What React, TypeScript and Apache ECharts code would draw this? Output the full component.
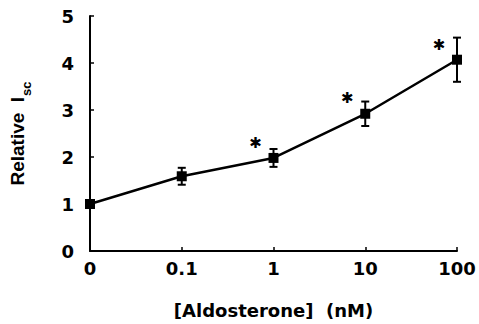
import React, { useEffect, useRef } from "react";
import * as echarts from "echarts";

const xLabels = ["0", "0.1", "1", "10", "100"];
const means = [1.0, 1.59, 1.98, 2.92, 4.07];
const errors = [0, 0.18, 0.19, 0.26, 0.47];
const starY = [null, null, 2.3, 3.25, 4.38];
const yTicks = [0, 1, 2, 3, 4, 5];

export default function App() {
  const ref = useRef<HTMLDivElement>(null);
  useEffect(() => {
    document.body.style.margin = "0";
    const chart = echarts.init(ref.current!, undefined, { renderer: "svg" });
    const pts = means.map((m, i) => [i, m]);
    const errData = means.map((m, i) => [i, m - errors[i], m + errors[i]]);
    const starData = starY
      .map((y, i) => (y == null ? null : [i, y]))
      .filter((d) => d != null);
    chart.setOption({
      animation: false,
      backgroundColor: "#fff",
      grid: { left: 88, right: 22, top: 16, bottom: 72 },
      xAxis: {
        type: "value",
        min: 0,
        max: 4,
        interval: 1,
        name: "[Aldosterone]  (nM)",
        nameLocation: "middle",
        nameGap: 50,
        nameTextStyle: { fontFamily: "DejaVu Sans", fontWeight: "bold", fontSize: 18, color: "#000" },
        axisLine: { lineStyle: { color: "#000", width: 2 } },
        axisTick: { inside: true, length: 4, lineStyle: { color: "#000", width: 1.5 } },
        axisLabel: {
          formatter: (v: number) => xLabels[v] ?? "",
          margin: 8,
          fontFamily: "DejaVu Sans",
          fontWeight: "bold",
          fontSize: 18,
          color: "#000",
        },
        splitLine: { show: false },
      },
      yAxis: {
        type: "value",
        min: 0,
        max: 5,
        interval: 1,
        name: "{a|Relative  I}{b|sc}",
        nameLocation: "middle",
        nameGap: 58,
        nameTextStyle: {
          rich: {
            a: { fontFamily: "Liberation Sans", fontWeight: "bold", fontSize: 19, color: "#000", lineHeight: 24, verticalAlign: "top" },
            b: { fontFamily: "Liberation Sans", fontWeight: "bold", fontSize: 13, color: "#000", lineHeight: 24, padding: [12, 0, 0, 1], verticalAlign: "top" },
          },
        },
        axisLine: { show: true, lineStyle: { color: "#000", width: 2 } },
        axisTick: { show: true, inside: true, length: 4, lineStyle: { color: "#000", width: 1.5 } },
        axisLabel: {
          formatter: (v: number) => (yTicks.includes(v) ? String(v) : ""),
          margin: 16,
          fontFamily: "DejaVu Sans",
          fontWeight: "bold",
          fontSize: 18,
          color: "#000",
        },
        splitLine: { show: false },
      },
      series: [
        {
          type: "line",
          data: pts,
          symbol: "rect",
          symbolSize: 10,
          itemStyle: { color: "#000" },
          lineStyle: { color: "#000", width: 2.5 },
          z: 3,
        },
        {
          type: "custom",
          data: errData,
          z: 2,
          renderItem: (params: any, api: any) => {
            const x = api.value(0);
            const lo = api.coord([x, api.value(1)]);
            const hi = api.coord([x, api.value(2)]);
            if (Math.abs(hi[1] - lo[1]) < 1) return { type: "group", children: [] };
            const w = 4;
            const style = { stroke: "#000", lineWidth: 2 };
            return {
              type: "group",
              children: [
                { type: "line", shape: { x1: lo[0], y1: lo[1], x2: hi[0], y2: hi[1] }, style },
                { type: "line", shape: { x1: lo[0] - w, y1: lo[1], x2: lo[0] + w, y2: lo[1] }, style },
                { type: "line", shape: { x1: hi[0] - w, y1: hi[1], x2: hi[0] + w, y2: hi[1] }, style },
              ],
            };
          },
        },
        {
          type: "custom",
          data: starData,
          z: 4,
          renderItem: (params: any, api: any) => {
            const p = api.coord([api.value(0), api.value(1)]);
            return {
              type: "text",
              x: p[0] - 18,
              y: p[1],
              style: {
                text: "✱",
                fontFamily: "DejaVu Sans",
                fontWeight: "bold",
                fontSize: 15,
                fill: "#000",
                align: "center",
                verticalAlign: "middle",
              },
            };
          },
        },
      ],
    });
    return () => chart.dispose();
  }, []);
  return <div ref={ref} style={{ position: "fixed", left: 0, top: 0, width: 479, height: 324 }} />;
}
